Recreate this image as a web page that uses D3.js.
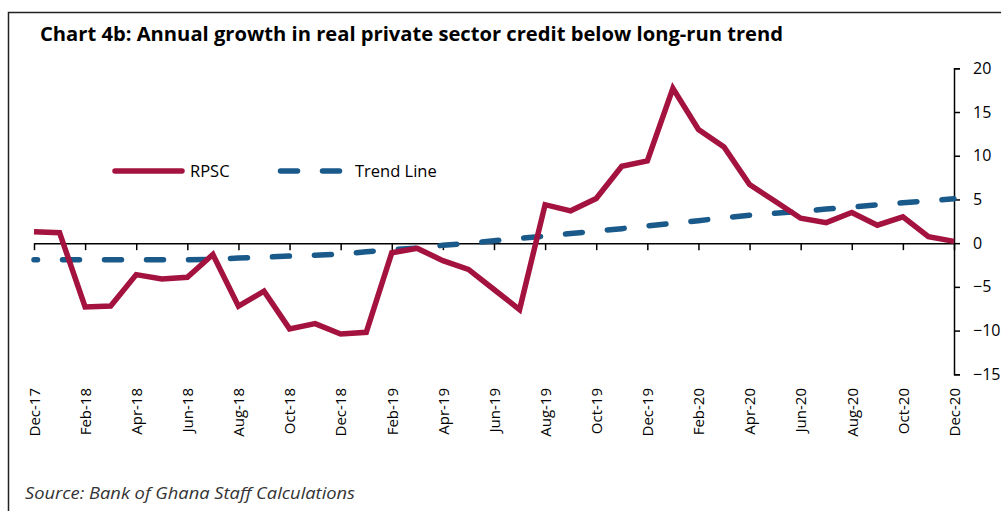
<!DOCTYPE html>
<html>
<head>
<meta charset="utf-8">
<script src="https://cdn.jsdelivr.net/npm/d3@7"></script>
<style>
  html, body { margin: 0; padding: 0; background: #fff; }
  svg { display: block; }
</style>
</head>
<body>
<div id="chart"></div>
<script>
// Monthly categories, Dec-17 .. Dec-20
const months = [
  'Dec-17', 'Jan-18', 'Feb-18', 'Mar-18', 'Apr-18', 'May-18', 'Jun-18', 'Jul-18',
  'Aug-18', 'Sep-18', 'Oct-18', 'Nov-18', 'Dec-18', 'Jan-19', 'Feb-19', 'Mar-19',
  'Apr-19', 'May-19', 'Jun-19', 'Jul-19', 'Aug-19', 'Sep-19', 'Oct-19', 'Nov-19',
  'Dec-19', 'Jan-20', 'Feb-20', 'Mar-20', 'Apr-20', 'May-20', 'Jun-20', 'Jul-20',
  'Aug-20', 'Sep-20', 'Oct-20', 'Nov-20', 'Dec-20'
];

// Annual growth in real private sector credit (%)
const rpsc = [
  1.3, 1.2, -7.3, -7.2, -3.6, -4.1, -3.9, -1.3,
  -7.2, -5.5, -9.8, -9.2, -10.4, -10.2, -1.1, -0.6,
  -2.0, -3.0, -5.3, -7.6, 4.4, 3.7, 5.1, 8.8,
  9.4, 17.7, 13.0, 11.0, 6.7, 4.8, 2.85, 2.35,
  3.5, 2.05, 3.0, 0.75, 0.2
];

// Long-run trend (%)
const trend = [
  -1.9, -1.9, -1.9, -1.9, -1.9, -1.9, -1.9, -1.85,
  -1.7, -1.6, -1.48, -1.38, -1.25, -0.98, -0.76, -0.55,
  -0.25, 0.0, 0.27, 0.54, 0.82, 1.1, 1.38, 1.66,
  1.97, 2.27, 2.57, 2.9, 3.2, 3.42, 3.65, 3.9,
  4.14, 4.38, 4.62, 4.85, 5.07
];

const yTicks = [-15, -10, -5, 0, 5, 10, 15, 20];

const width = 1001;
const height = 511;

const svg = d3.select('#chart')
  .append('svg')
  .attr('width', width)
  .attr('height', height);

svg.append('rect')
  .attr('width', width)
  .attr('height', height)
  .attr('fill', '#fff');

// outer frame
svg.append('rect')
  .attr('x', 8.5)
  .attr('y', 12.5)
  .attr('width', 1000)
  .attr('height', 520)
  .attr('fill', 'none')
  .attr('stroke', '#222')
  .attr('stroke-width', 1.5);

svg.append('text')
  .attr('x', 40)
  .attr('y', 41)
  .attr('font-family', 'Open Sans, sans-serif')
  .attr('font-weight', 'bold')
  .attr('font-size', 19.5)
  .attr('fill', '#000')
  .attr('textLength', 743)
  .attr('lengthAdjust', 'spacingAndGlyphs')
  .text('Chart 4b: Annual growth in real private sector credit below long-run trend');

const x = d3.scaleLinear().domain([0, months.length - 1]).range([34, 954]);
const y = d3.scaleLinear().domain([-15, 20]).range([374.3, 68.3]);

// y axis on the right
const yAxis = svg.append('g')
  .attr('transform', `translate(${x(months.length - 1)},0)`)
  .call(d3.axisRight(y).tickValues(yTicks).tickSize(6).tickSizeOuter(6).tickPadding(13));
yAxis.select('.domain').attr('stroke', '#000').attr('stroke-width', 1.5);
yAxis.selectAll('.tick line').attr('stroke', '#000').attr('stroke-width', 1.5);
yAxis.selectAll('.tick text')
  .attr('font-family', 'Open Sans, sans-serif')
  .attr('font-size', 16)
  .attr('fill', '#000');

// x axis at zero
const evenIdx = d3.range(0, months.length, 2);
const xAxis = svg.append('g')
  .attr('transform', `translate(0,${y(0)})`)
  .call(d3.axisBottom(x).tickValues(evenIdx).tickFormat(i => months[i]).tickSize(7).tickSizeOuter(0));
xAxis.select('.domain').attr('stroke', '#000').attr('stroke-width', 1.5);
xAxis.selectAll('.tick line').attr('stroke', '#000').attr('stroke-width', 1.5);
xAxis.selectAll('.tick text')
  .attr('font-family', 'Open Sans, sans-serif')
  .attr('font-size', 15)
  .attr('fill', '#000')
  .attr('transform', 'rotate(-90)')
  .attr('x', -(388 - y(0)))
  .attr('y', 0)
  .attr('dy', '0.35em')
  .attr('text-anchor', 'end');

const line = d3.line()
  .x((d, i) => x(i))
  .y(d => y(d));

const rpscColor = '#a4123f';
const trendColor = '#1a5a8a';

svg.append('path')
  .datum(trend)
  .attr('d', line)
  .attr('fill', 'none')
  .attr('stroke', trendColor)
  .attr('stroke-width', 5.5)
  .attr('stroke-linecap', 'round')
  .attr('stroke-dasharray', '17 25')
  .attr('stroke-dashoffset', 13.5);

svg.append('path')
  .datum(rpsc)
  .attr('d', line)
  .attr('fill', 'none')
  .attr('stroke', rpscColor)
  .attr('stroke-width', 5.5)
  .attr('stroke-linejoin', 'miter');

// legend
const legend = svg.append('g');
legend.append('line')
  .attr('x1', 115).attr('x2', 182)
  .attr('y1', 171).attr('y2', 171)
  .attr('stroke', rpscColor)
  .attr('stroke-width', 5.5)
  .attr('stroke-linecap', 'round');
legend.append('text')
  .attr('x', 190).attr('y', 177)
  .attr('font-family', 'Open Sans, sans-serif')
  .attr('font-size', 16.5)
  .attr('fill', '#000')
  .text('RPSC');
legend.append('line')
  .attr('x1', 280.5).attr('x2', 339.5)
  .attr('y1', 171).attr('y2', 171)
  .attr('stroke', trendColor)
  .attr('stroke-width', 5.5)
  .attr('stroke-linecap', 'round')
  .attr('stroke-dasharray', '17 25');
legend.append('text')
  .attr('x', 355).attr('y', 177)
  .attr('font-family', 'Open Sans, sans-serif')
  .attr('font-size', 16.5)
  .attr('fill', '#000')
  .text('Trend Line');

svg.append('text')
  .attr('x', 25)
  .attr('y', 499)
  .attr('font-family', 'Open Sans, sans-serif')
  .attr('font-style', 'italic')
  .attr('font-size', 16)
  .attr('fill', '#333')
  .attr('textLength', 330)
  .attr('lengthAdjust', 'spacingAndGlyphs')
  .text('Source: Bank of Ghana Staff Calculations');
</script>
</body>
</html>
